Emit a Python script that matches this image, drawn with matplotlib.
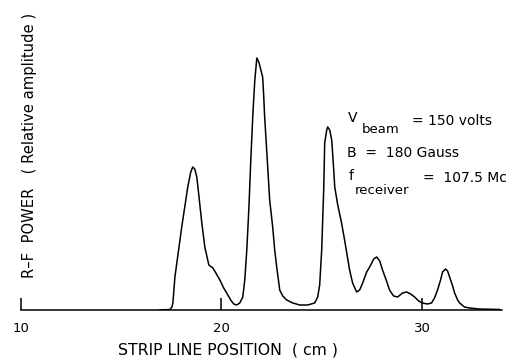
import matplotlib
matplotlib.use("Agg")
import matplotlib.pyplot as plt

# ---- data ----
position_cm = [16.94, 17.44, 17.54, 17.59, 17.69, 17.84, 18.03, 18.18, 18.33, 18.48,
               18.58, 18.68, 18.78, 18.88, 19.03, 19.18, 19.38, 19.58, 19.73, 19.93,
               20.12, 20.27, 20.47, 20.62, 20.77, 20.92, 21.07, 21.17, 21.27, 21.37,
               21.47, 21.57, 21.67, 21.77, 21.87, 21.97, 22.06, 22.11, 22.16, 22.26,
               22.41, 22.56, 22.66, 22.76, 22.91, 23.06, 23.26, 23.56, 23.91, 24.30,
               24.65, 24.80, 24.90, 25.00, 25.10, 25.15, 25.25, 25.30, 25.40, 25.50,
               25.60, 25.65, 25.80, 25.99, 26.14, 26.29, 26.39, 26.54, 26.74, 26.89,
               27.04, 27.24, 27.39, 27.59, 27.74, 27.89, 28.03, 28.23, 28.38, 28.58,
               28.78, 29.03, 29.23, 29.43, 29.63, 29.83, 30.02, 30.27, 30.47, 30.62,
               30.77, 30.92, 31.02, 31.17, 31.27, 31.37, 31.52, 31.62, 31.77, 31.87,
               32.11, 32.36, 32.86, 33.86]
amplitude = [0.0, 0.2, 1.2, 2.8, 13.2, 22.0, 33.2, 41.2, 49.2, 55.2,
             57.2, 56.4, 53.2, 46.0, 34.8, 25.2, 18.0, 16.8, 14.8, 12.0,
             8.8, 6.8, 4.0, 2.4, 2.0, 2.8, 5.2, 12.0, 24.0, 40.0,
             60.0, 78.0, 92.0, 100.8, 99.2, 96.0, 93.2, 86.0, 77.2, 64.0,
             44.0, 33.2, 24.0, 17.2, 8.0, 5.6, 4.0, 2.8, 2.0, 2.0,
             2.8, 5.2, 10.0, 24.0, 48.0, 66.8, 72.0, 73.2, 72.0, 68.0,
             56.0, 49.2, 42.0, 34.8, 28.0, 20.8, 16.0, 10.8, 7.2, 8.0,
             10.8, 15.2, 17.2, 20.4, 21.2, 19.6, 16.0, 11.6, 8.0, 5.6,
             5.2, 6.8, 7.2, 6.4, 5.2, 3.6, 2.8, 2.4, 2.8, 4.8,
             8.0, 12.0, 15.2, 16.4, 15.6, 13.2, 9.6, 6.8, 4.0, 2.8,
             1.2, 0.8, 0.4, 0.2]
tick_values = [10, 20, 30]
tick_labels = ["10", "20", "30"]
x_label = "STRIP LINE POSITION  ( cm )"
y_label = "R\u2013F  POWER   ( Relative amplitude )"

plt.rcParams['font.family'] = ['DejaVu Sans']

W, H = 514, 362
fig = plt.figure(figsize=(W / 100, H / 100), dpi=100)


def fx(px):
    return px / W


def fy(py):
    return 1 - py / H


ax = fig.add_axes([fx(20.5), fy(310), fx(502.4) - fx(20.5), fy(50) - fy(310)])
ax.plot(position_cm, amplitude, color='black', lw=1.1, solid_joinstyle='round')
ax.set_xlim(10, 34)
ax.set_ylim(0, 104)
for s in ['top', 'right', 'left']:
    ax.spines[s].set_visible(False)
ax.spines['bottom'].set_linewidth(1.1)
ax.set_xticks(tick_values)
ax.set_xticklabels(tick_labels)
ax.tick_params(axis='x', direction='in', length=9, width=1.1, pad=9, labelsize=9.5)
ax.set_yticks([])

xl = fig.text(fx(228), fy(350), x_label, ha='center', va='center', fontsize=10)
yl = fig.text(fx(30), fy(145), y_label, ha='center', va='center', rotation=90, fontsize=9)

fs = 10
fig.text(fx(348), fy(122), "V", ha='left', va='baseline', fontsize=fs)
fig.text(fx(362), fy(133), "beam", ha='left', va='baseline', fontsize=fs - 0.5)
fig.text(fx(412), fy(125), "= 150 volts", ha='left', va='baseline', fontsize=fs)
fig.text(fx(347), fy(157), "B  =  180 Gauss", ha='left', va='baseline', fontsize=fs)
fig.text(fx(349), fy(180), "f", ha='left', va='baseline', fontsize=fs)
fig.text(fx(355), fy(194), "receiver", ha='left', va='baseline', fontsize=fs - 0.5)
fig.text(fx(423), fy(182), "=  107.5 Mc", ha='left', va='baseline', fontsize=fs)

fig.canvas.draw()
r = fig.canvas.get_renderer()
bb = xl.get_window_extent(r)
xl.set_fontsize(xl.get_fontsize() * 220 / bb.width)
bb = yl.get_window_extent(r)
yl.set_fontsize(yl.get_fontsize() * 264 / bb.height)

fig.savefig("out.png", dpi=100, facecolor='white')
